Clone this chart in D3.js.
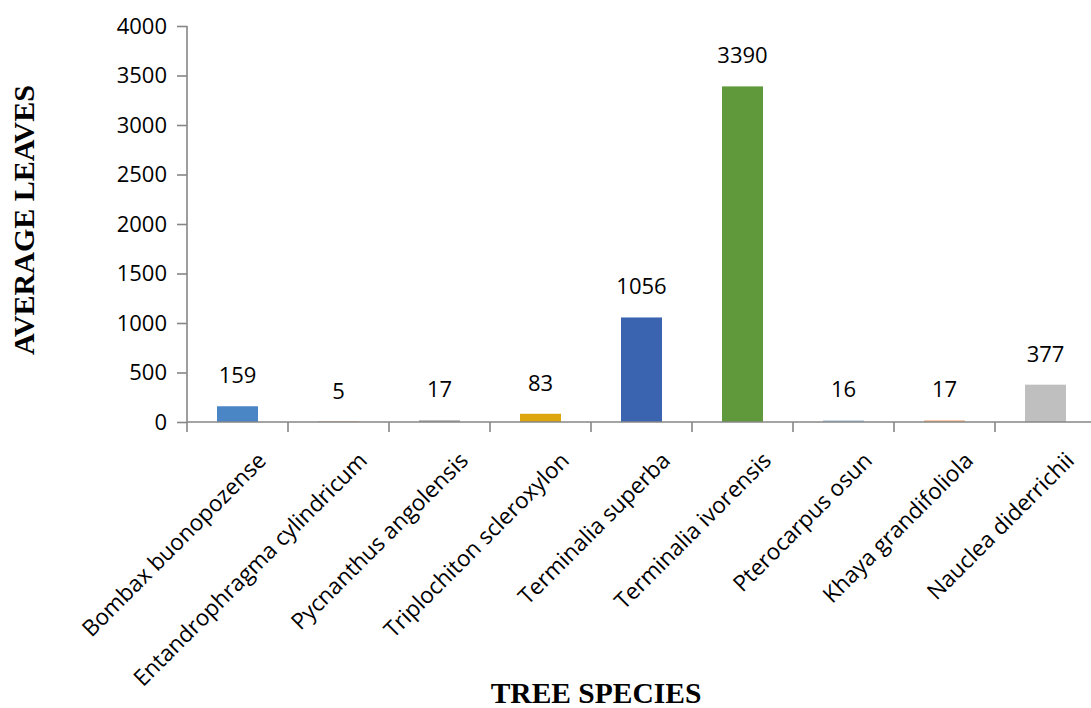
<!DOCTYPE html>
<html>
<head>
<meta charset="utf-8">
<script src="https://cdn.jsdelivr.net/npm/d3@7"></script>
<style>
  html, body { margin: 0; padding: 0; background: #fff; }
  svg { display: block; }
  .tick text, .val { font-family: "Open Sans", sans-serif; fill: #000; }
  .title { font-family: "Liberation Serif", "Times New Roman", serif; font-weight: bold; fill: #000; }
</style>
</head>
<body>
<svg id="chart" width="1091" height="708"></svg>
<script>
// Average leaf counts per tree species
const species = [
  "Bombax buonopozense",
  "Entandrophragma cylindricum",
  "Pycnanthus angolensis",
  "Triplochiton scleroxylon",
  "Terminalia superba",
  "Terminalia ivorensis",
  "Pterocarpus osun",
  "Khaya grandifoliola",
  "Nauclea diderrichii"
];
const averageLeaves = [159, 5, 17, 83, 1056, 3390, 16, 17, 377];
const barColors = ["#4a86c5", "#e07b39", "#a0a0a0", "#dca60c", "#3a63b0", "#5f993b", "#a9c2de", "#f2b48c", "#bfbfbf"];
const yTicks = [0, 500, 1000, 1500, 2000, 2500, 3000, 3500, 4000];

const svg = d3.select("#chart");
const axisColor = "#868686";

const x = d3.scaleBand()
  .domain(species)
  .range([187, 1096])
  .paddingInner(0.594)
  .paddingOuter(0.297);

const y = d3.scaleLinear()
  .domain([0, 4000])
  .range([422, 26]);

const data = species.map((s, i) => ({ name: s, value: averageLeaves[i], color: barColors[i] }));

// Bars
svg.append("g").selectAll("rect")
  .data(data)
  .join("rect")
  .attr("x", d => x(d.name))
  .attr("width", x.bandwidth())
  .attr("y", d => y(d.value))
  .attr("height", d => y(0) - y(d.value))
  .attr("fill", d => d.color);

// Value labels above each bar
svg.append("g").selectAll("text")
  .data(data)
  .join("text")
  .attr("class", "val")
  .attr("x", d => x(d.name) + x.bandwidth() / 2)
  .attr("y", d => y(d.value) - 23)
  .attr("text-anchor", "middle")
  .attr("font-size", 22)
  .text(d => d.value);

// Y axis
const yAxis = svg.append("g")
  .attr("transform", "translate(187,0)")
  .call(d3.axisLeft(y).tickValues(yTicks).tickSize(10).tickPadding(10).tickFormat(d3.format("d")));
yAxis.selectAll("line, path").attr("stroke", axisColor).attr("stroke-width", 1.6);
yAxis.select(".domain").attr("d", "M0," + y(4000) + "V" + y(0));
yAxis.selectAll("text").attr("font-size", 22);

// X axis: tick marks at category boundaries, rotated category labels
const step = x.step();
const boundaries = d3.range(species.length + 1).map(i => x.range()[0] + i * step);
const xg = svg.append("g");
xg.append("line")
  .attr("x1", x.range()[0]).attr("x2", x.range()[1])
  .attr("y1", y(0)).attr("y2", y(0))
  .attr("stroke", axisColor).attr("stroke-width", 1.6);
xg.selectAll("line.tk")
  .data(boundaries)
  .join("line")
  .attr("class", "tk")
  .attr("x1", d => d).attr("x2", d => d)
  .attr("y1", y(0)).attr("y2", y(0) + 10)
  .attr("stroke", axisColor).attr("stroke-width", 1.6);
xg.selectAll("text")
  .data(species)
  .join("text")
  .attr("class", "val")
  .attr("font-size", 22.5)
  .attr("text-anchor", "end")
  .attr("transform", d => `translate(${x(d) + x.bandwidth() / 2 + 30},${y(0) + 40}) rotate(-45)`)
  .text(d => d);

// Axis titles
svg.append("text")
  .attr("class", "title")
  .attr("x", 596)
  .attr("y", 703)
  .attr("text-anchor", "middle")
  .attr("font-size", 29.5)
  .text("TREE SPECIES");

svg.append("text")
  .attr("class", "title")
  .attr("transform", "translate(34,220) rotate(-90)")
  .attr("text-anchor", "middle")
  .attr("font-size", 30)
  .text("AVERAGE LEAVES");
</script>
</body>
</html>
